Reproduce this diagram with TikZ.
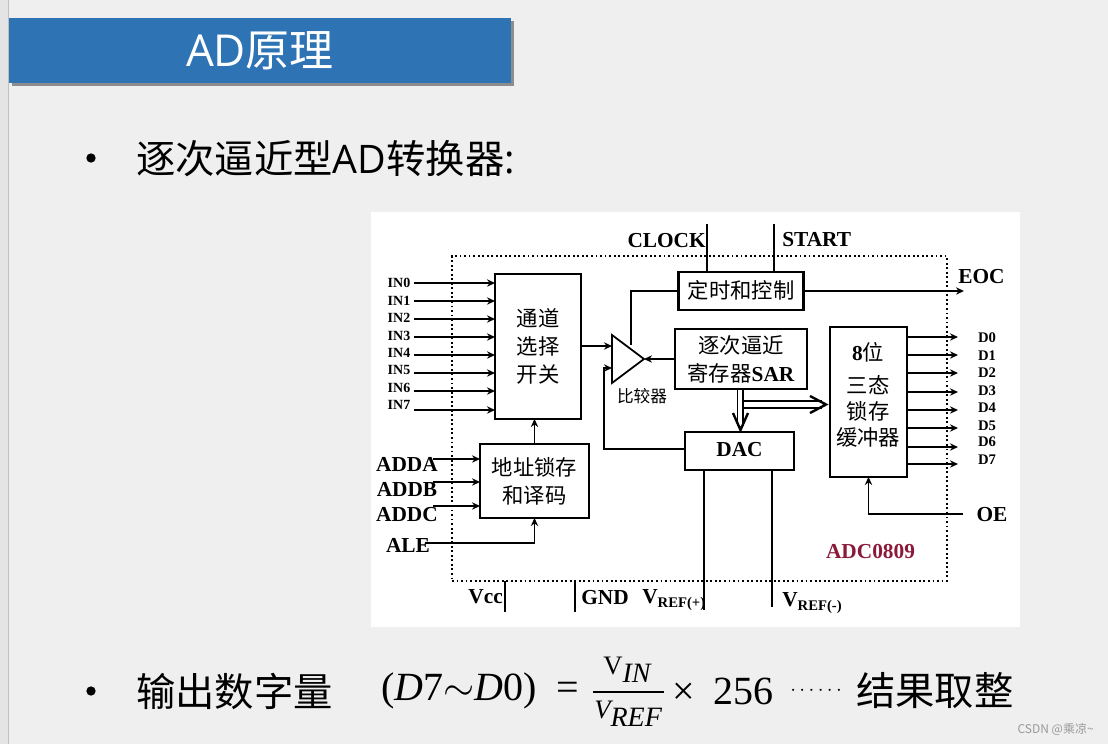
\documentclass[tikz,border=0pt]{standalone}
\usepackage{fix-cm}
\usepackage{amsmath}
\usepackage{fontspec}
\setmainfont{Liberation Serif}
\newfontfamily\cjk{Noto Sans CJK SC}
\newfontfamily\lat{Open Sans}
\usetikzlibrary{arrows.meta,shadows}
\definecolor{slidebg}{HTML}{EFEFEF}
\definecolor{stripgray}{HTML}{E4E4E4}
\definecolor{titleblue}{HTML}{2E74B5}
\definecolor{chipred}{HTML}{8B1A3A}
\newcommand{\pinfont}[1]{\fontsize{#1}{#1}\selectfont\bfseries}
\newcommand{\vrefsub}[1]{V\raisebox{-3pt}{\fontsize{11}{11}\selectfont REF(#1)}}

\begin{document}
\begin{tikzpicture}[x=0.75pt, y=-0.75pt, >={Stealth[length=6pt,width=5.5pt]},
    blockbox/.style={draw=black, fill=white, line width=1.6pt, inner sep=0pt, outer sep=0pt, align=center,
      font=\cjk\fontsize{16}{21}\selectfont},
    pinlabel/.style={inner sep=0pt, font=\pinfont{16}},
    smallpin/.style={inner sep=0pt, font=\pinfont{10.5}},
    sigline/.style={draw=black, line width=1.3pt},
    busline/.style={draw=black, line width=1.4pt},
    slidetext/.style={anchor=west, inner sep=0pt, font=\cjk\fontsize{29.5}{32}\selectfont},
    formula/.style={anchor=west, inner sep=0pt, font=\fontsize{30}{34}\selectfont},
    bulletdot/.style={circle, fill=black, inner sep=0pt, minimum size=7pt}]
  \useasboundingbox (0,0) rectangle (1108,744);

  % Slide background
  \fill[slidebg] (0,0) rectangle (1108,744);
  \fill[stripgray] (0,0) rectangle (8,744);
  \draw[black!25, line width=0.6pt] (8,0) -- (8,744);

  % Title bar
  \node[fill=titleblue, text=white, minimum width=376.5pt, minimum height=48.75pt, inner sep=0pt,
    drop shadow={shadow xshift=2pt, shadow yshift=-2pt, fill=black!70, opacity=0.6},
    font=\cjk\fontsize{33}{36}\selectfont] (title) at (260,50.5) {{\lat AD}原理};

  % Bullet lines
  \node[bulletdot] (dot1) at (91,158) {};
  \node[slidetext] (line1) at (136,159) {逐次逼近型{\lat AD}转换器{\lat :}};
  \node[bulletdot] (dot2) at (91,691) {};
  \node[slidetext] (line2) at (136,691) {输出数字量};

  % Formula
  \node[formula] (lhs) at (381,691) {(\textit{D}7$\sim$\textit{D}0)};
  \node[formula] (eq) at (556,691) {=};
  \node[anchor=west, inner sep=0pt, font=\fontsize{20}{24}\selectfont] (num) at (603,670) {V\raisebox{-6pt}{\fontsize{21}{24}\selectfont\itshape IN}};
  \node[anchor=west, inner sep=0pt, font=\fontsize{20}{24}\selectfont\itshape] (den) at (594,714) {V\raisebox{-6pt}{\fontsize{21}{24}\selectfont REF}};
  \coordinate (barl) at (593,692);
  \coordinate (barr) at (664,692);
  \draw[line width=1.6pt] (barl) -- (barr);
  \node[formula] (rhs) at (672,691) {×\hspace{14pt}256};
  \node[anchor=west, inner sep=0pt, font=\fontsize{15.5}{20}\selectfont] (dots) at (790,691) {$\cdots\cdots$};
  \node[slidetext] (round) at (856,691) {结果取整};
  \node[anchor=east, inner sep=0pt, text=black!40, font=\cjk\fontsize{9}{10}\selectfont] (mark) at (1094,729) {CSDN @乘凉\textasciitilde};

  % White panel and dotted chip outline
  \node[fill=white, minimum width=486.75pt, minimum height=311.25pt, inner sep=0pt] (panel) at (695.5,419.5) {};
  \node[draw=black, dotted, line width=1.4pt, minimum width=371.25pt, minimum height=243.75pt, inner sep=0pt, outer sep=0pt] (chip) at (699.5,418.5) {};

  % Blocks
  \node[blockbox, minimum width=64.5pt, minimum height=108.75pt] (sel) at (538,346.5) {通道\\选择\\开关};
  \node[blockbox, minimum width=93.75pt, minimum height=28.5pt] (timing) at (741,291) {\raisebox{2pt}{定时和控制}};
  \node[blockbox, minimum width=99pt, minimum height=45pt] (sar) at (741,359) {逐次逼近\\寄存器{\rmfamily\bfseries SAR}};
  \node[blockbox, minimum width=81.75pt, minimum height=28.5pt] (dac) at (739.5,451) {\raisebox{2pt}{\rmfamily\bfseries DAC}};
  \node[blockbox, minimum width=57.75pt, minimum height=112.5pt] (latch) at (868.5,402) {};
  \node[inner sep=0pt, align=center, font=\cjk\fontsize{16}{19.5}\selectfont] (latchtext) at (868,395) {{\rmfamily\bfseries 8}位\\[5pt]三态\\锁存\\缓冲器};
  \node[blockbox, minimum width=81.75pt, minimum height=55.5pt] (addr) at (534.5,481) {地址锁存\\和译码};

  % Comparator
  \coordinate (cmpa) at (612,335);
  \coordinate (cmpb) at (612,383);
  \coordinate (cmptip) at (644,359);
  \draw[sigline, line join=miter, fill=white] (cmpa) -- (cmpb) -- (cmptip) -- cycle;
  \node[inner sep=0pt, font=\cjk\fontsize{12.5}{14}\selectfont] (cmplabel) at (642,396) {比较器};

  % Analog inputs
  \foreach \i/\ly/\ay in {0/283/283, 1/301/301, 2/318/319, 3/336/337, 4/353/355, 5/370/373, 6/388/391, 7/405/410} {
    \node[smallpin] (in\i) at (399,\ly) {IN\i};
    \coordinate (ins\i) at (414,\ay);
    \draw[sigline, ->] (ins\i) -- (ins\i -| sel.west);
  }

  % Address inputs
  \node[pinlabel] (adda) at (407,464) {ADDA};
  \node[pinlabel] (addb) at (407,489) {ADDB};
  \node[pinlabel] (addc) at (407,515) {ADDC};
  \node[pinlabel] (ale) at (408,545) {ALE};
  \coordinate (addas) at (433,459);
  \coordinate (addbs) at (433,482);
  \coordinate (addcs) at (433,506);
  \coordinate (ales) at (425,543);
  \draw[sigline, ->] (addas) -- (addas -| addr.west);
  \draw[sigline, ->] (addbs) -- (addbs -| addr.west);
  \draw[sigline, ->] (addcs) -- (addcs -| addr.west);
  \draw[sigline, ->] (ales) -| (addr.south);
  \draw[sigline, ->] (addr.north) -- (addr.north |- sel.south);

  % Comparator connections
  \coordinate (cmpin) at (612,346);
  \coordinate (cmpfb) at (612,368);
  \coordinate (fbturn) at (604,449);
  \coordinate (cmpup) at (631,345);
  \draw[sigline, ->] (cmpin -| sel.east) -- (cmpin);
  \draw[sigline, ->] (fbturn -| dac.west) -- (fbturn) |- (cmpfb);
  \draw[sigline, ->] (sar.west) -- (cmptip);
  \draw[sigline] (cmpup) |- (timing.west);

  % Timing and control pins
  \node[pinlabel, anchor=east] (clock) at (706,241) {CLOCK};
  \node[pinlabel, anchor=west] (start) at (782,240) {START};
  \node[pinlabel, anchor=west] (eoc) at (958,277) {EOC};
  \coordinate (clks) at (707,224);
  \coordinate (stas) at (774,224);
  \coordinate (eocend) at (964,291);
  \draw[sigline] (clks) -- (clks |- timing.north);
  \draw[sigline] (stas) -- (stas |- timing.north);
  \draw[sigline, ->] (timing.east) -- (eocend);

  % Data bus from SAR
  \coordinate (busa) at (737.5,389);
  \coordinate (busb) at (743,389);
  \coordinate (busc) at (743,401);
  \coordinate (busd) at (743,408);
  \coordinate (bustip) at (826,404.5);
  \coordinate (downtip) at (740.5,430);
  \draw[busline] (busa) -- (busa |- 0,426);
  \draw[busline] (busb) -- (busb |- 0,426);
  \draw[busline] (busc) -- (busc -| 822,0);
  \draw[busline] (busd) -- (busd -| 822,0);
  \draw[busline, line width=1.8pt] (733,413) -- (downtip) -- (748,413);
  \draw[busline, line width=1.8pt] (810,396) -- (bustip) -- (810,413);

  % Data outputs
  \foreach \i/\ly/\ay in {0/338/337, 1/356/355, 2/373/373, 3/391/392, 4/408/410, 5/426/428, 6/442/447, 7/460/464} {
    \node[smallpin, font=\pinfont{11}] (d\i) at (987,\ly) {D\i};
    \coordinate (dend\i) at (958,\ay);
    \draw[sigline, ->] (dend\i -| latch.east) -- (dend\i);
  }
  \node[pinlabel] (oe) at (992,515) {OE};
  \coordinate (oes) at (963,514);
  \draw[sigline, ->] (oes) -| (latch.south);

  % Chip name
  \node[pinlabel, text=chipred] (chipname) at (870.5,552) {ADC0809};

  % Supply and reference pins
  \node[pinlabel, anchor=east] (vcc) at (503,597) {Vcc};
  \node[pinlabel, anchor=west] (gnd) at (581,598) {GND};
  \node[pinlabel, anchor=west] (vrefp) at (642,600) {\vrefsub{+}};
  \node[pinlabel, anchor=west] (vrefm) at (782,603) {\vrefsub{-}};
  \coordinate (vcce) at (505,612);
  \coordinate (gnde) at (575,612);
  \coordinate (refpe) at (704,610);
  \coordinate (refme) at (772,607);
  \draw[sigline] (vcce |- chip.south) -- (vcce);
  \draw[sigline] (gnde |- chip.south) -- (gnde);
  \draw[sigline] (refpe |- dac.south) -- (refpe);
  \draw[sigline] (refme |- dac.south) -- (refme);
\end{tikzpicture}
\end{document}
